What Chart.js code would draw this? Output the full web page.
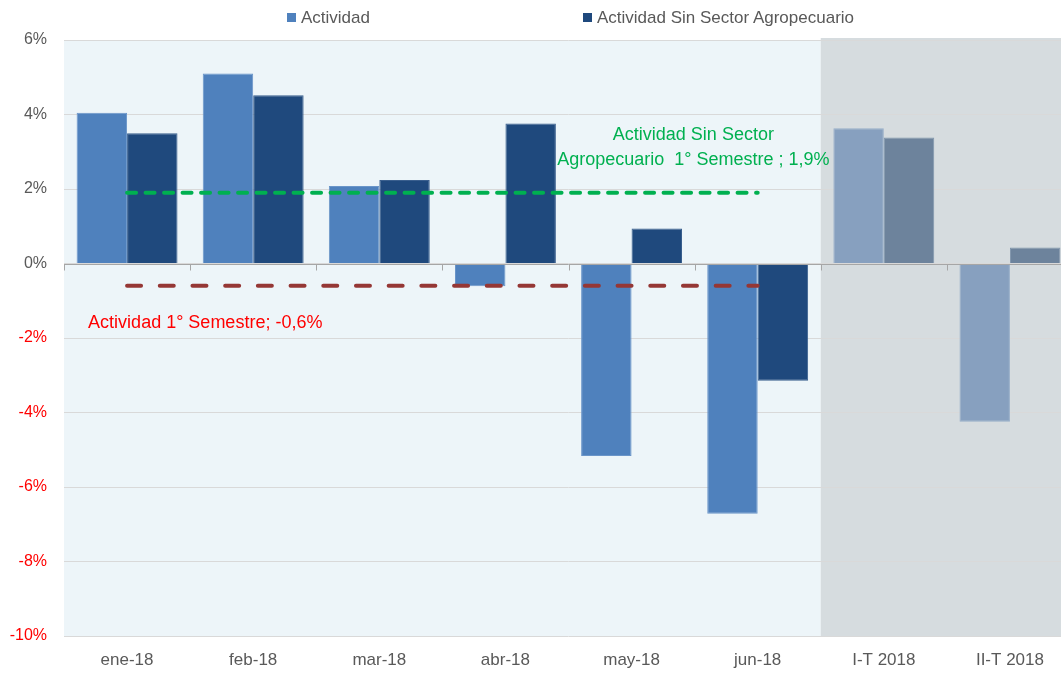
<!DOCTYPE html>
<html>
<head>
<meta charset="utf-8">
<script src="https://cdn.jsdelivr.net/npm/chart.js@4/dist/chart.umd.min.js"></script>
<style>
  html, body { margin: 0; padding: 0; overflow: hidden; background: #ffffff; }
  #wrap { position: relative; width: 1073px; height: 675px; }
  #legend { position: absolute; top: 0; left: 0; width: 100%; height: 34px;
            font-family: "Liberation Sans", Arial, sans-serif; font-size: 17px; color: #595959; }
  .item { position: absolute; top: 8px; white-space: nowrap; line-height: 19px; }
  .box { display: inline-block; width: 9px; height: 9px; margin-right: 5px; vertical-align: 1px; }
</style>
</head>
<body>
<div id="wrap">
  <canvas id="chart"></canvas>
  <div id="legend"></div>
</div>
<script>
/* ------------------
  data
-------------------*/
var labels = ['ene-18', 'feb-18', 'mar-18', 'abr-18', 'may-18', 'jun-18', 'I-T 2018', 'II-T 2018'];
var actividad = [4.05, 5.1, 2.08, -0.61, -5.17, -6.72, 3.63, -4.25];
var sinAgro = [3.5, 4.52, 2.24, 3.76, 0.94, -3.15, 3.38, 0.43];
// semester averages, drawn over the monthly categories only
var promSinAgro = [1.9, 1.9, 1.9, 1.9, 1.9, 1.9, null, null];
var promActividad = [-0.6, -0.6, -0.6, -0.6, -0.6, -0.6, null, null];
var yTicks = [-10, -8, -6, -4, -2, 0, 2, 4, 6];
var shadeFrom = 6; // quarterly categories get the grey panel

var notes = [
  { lines: ['Actividad Sin Sector', 'Agropecuario  1° Semestre ; 1,9%'], x: 4.49, y: 3.1, color: '#00B050' },
  { lines: ['Actividad 1° Semestre; -0,6%'], x: 0.62, y: -1.61, color: '#FF0000' }
];

var FONT = '"Liberation Sans", Arial, sans-serif';
var GREY_TXT = '#595959';

function colorsFor(normal, faded) {
  return labels.map(function (l, i) { return i >= shadeFrom ? faded : normal; });
}

/* ------------------
  panels, zero axis and notes
-------------------*/
var decor = {
  id: 'decor',
  beforeDraw: function (chart) {
    var ctx = chart.ctx, a = chart.chartArea, x = chart.scales.x;
    var step = x.width / labels.length;
    var split = x.left + shadeFrom * step;
    ctx.save();
    ctx.fillStyle = '#EDF5F9';
    ctx.fillRect(a.left, a.top, split - a.left, a.bottom - a.top);
    ctx.fillStyle = '#D6DCDF';
    ctx.fillRect(split, a.top - 2, a.right - split, a.bottom - a.top + 2);
    ctx.restore();
  },
  afterDatasetsDraw: function (chart) {
    var ctx = chart.ctx, x = chart.scales.x, y = chart.scales.y;
    var y0 = Math.round(y.getPixelForValue(0)) + 0.5;
    var step = x.width / labels.length;
    ctx.save();
    ctx.strokeStyle = '#A6A6A6';
    ctx.lineWidth = 1;
    ctx.beginPath();
    ctx.moveTo(x.left, y0);
    ctx.lineTo(x.right, y0);
    for (var i = 0; i <= labels.length; i++) {
      var px = Math.round(x.left + i * step) + 0.5;
      ctx.moveTo(px, y0);
      ctx.lineTo(px, y0 + 6);
    }
    ctx.stroke();
    ctx.restore();
  },
  afterDraw: function (chart) {
    var ctx = chart.ctx, x = chart.scales.x, y = chart.scales.y;
    ctx.save();
    ctx.font = '18px ' + FONT;
    ctx.textAlign = 'center';
    ctx.textBaseline = 'middle';
    notes.forEach(function (n) {
      var cx = x.getPixelForValue(n.x);
      var cy = y.getPixelForValue(n.y);
      var lh = 25;
      var top = cy - (n.lines.length - 1) * lh / 2;
      ctx.fillStyle = n.color;
      n.lines.forEach(function (t, k) { ctx.fillText(t, cx, top + k * lh); });
    });
    ctx.restore();
  }
};

/* ------------------
  bar chart
-------------------*/
var chart = new Chart(document.getElementById('chart'), {
  type: 'bar',
  data: {
    labels: labels,
    datasets: [
      {
        type: 'line',
        label: 'Actividad Sin Sector Agropecuario 1° Semestre',
        data: promSinAgro,
        borderColor: '#00B050',
        borderWidth: 4,
        borderDash: [9, 9.5],
        borderCapStyle: 'round',
        pointRadius: 0,
        fill: false,
        order: 0
      },
      {
        type: 'line',
        label: 'Actividad 1° Semestre',
        data: promActividad,
        borderColor: '#953735',
        borderWidth: 4,
        borderDash: [14, 18.7],
        borderCapStyle: 'round',
        pointRadius: 0,
        fill: false,
        order: 0
      },
      {
        label: 'Actividad',
        data: actividad,
        backgroundColor: colorsFor('#4F81BD', '#87A0BF'),
        borderColor: colorsFor('#6A95C9', '#97AEC9'),
        borderWidth: 1,
        categoryPercentage: 0.8,
        barPercentage: 1.0,
        order: 1
      },
      {
        label: 'Actividad Sin Sector Agropecuario',
        data: sinAgro,
        backgroundColor: colorsFor('#1F497D', '#6D839C'),
        borderColor: colorsFor('#3A5F8E', '#8196AC'),
        borderWidth: 1,
        categoryPercentage: 0.8,
        barPercentage: 1.0,
        order: 1
      }
    ]
  },
  options: {
    responsive: true,
    maintainAspectRatio: false,
    animation: false,
    layout: { padding: { top: 40, left: 0, right: 0, bottom: 0 } },
    plugins: {
      legend: { display: false },
      tooltip: { enabled: false }
    },
    scales: {
      x: {
        grid: { display: false, drawTicks: false },
        border: { display: false },
        ticks: { color: GREY_TXT, font: { family: FONT, size: 17 }, padding: 14, maxRotation: 0 },
        afterFit: function (s) { s.height = 39; }
      },
      y: {
        min: -10,
        max: 6,
        afterBuildTicks: function (s) { s.ticks = yTicks.map(function (v) { return { value: v }; }); },
        grid: { color: '#D9D9D9', drawTicks: false },
        border: { display: false },
        ticks: {
          padding: 17,
          font: { family: FONT, size: 16 },
          color: function (c) { return c.tick.value < 0 ? '#FF0000' : GREY_TXT; },
          callback: function (v) { return v + '%'; }
        },
        afterFit: function (s) { s.width = 64; }
      }
    }
  },
  plugins: [decor]
});

/* ------------------
  legend (bar series only)
-------------------*/
var legendLeft = [287, 583];
var legendHtml = '';
[2, 3].forEach(function (d, k) {
  var ds = chart.data.datasets[d];
  legendHtml += '<span class="item" style="left:' + legendLeft[k] + 'px"><span class="box" style="background:' +
    ds.backgroundColor[0] + '"></span>' + ds.label + '</span>';
});
document.getElementById('legend').innerHTML = legendHtml;
</script>
</body>
</html>
